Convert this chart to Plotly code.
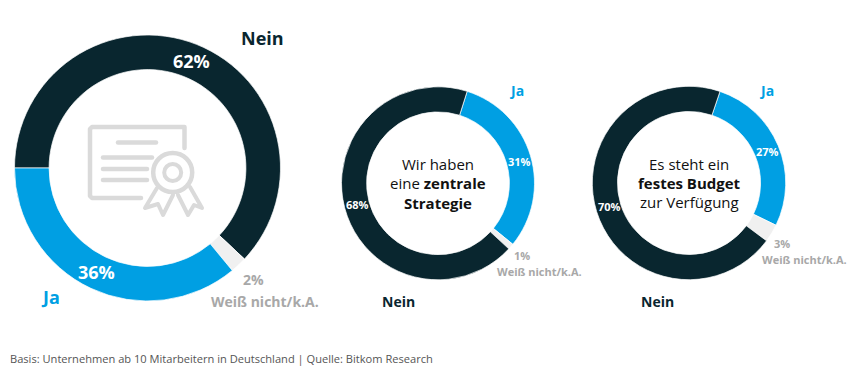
import plotly.graph_objects as go

W, H = 855, 371
NAVY, BLUE, PALE, GREY = "#09262f", "#009fe3", "#f0f0f0", "#a8a8a8"
FONT = "Open Sans"

# Data
answers_a = ["Nein", "Weiß nicht/k.A.", "Ja"]
values_a = [62, 2, 36]
answers_b = ["Ja", "Weiß nicht/k.A.", "Nein"]
values_b = [31, 1, 68]
answers_c = ["Ja", "Weiß nicht/k.A.", "Nein"]
values_c = [27, 3, 70]
colors = {"Nein": NAVY, "Ja": BLUE, "Weiß nicht/k.A.": PALE}
source = "Basis: Unternehmen ab 10 Mitarbeitern in Deutschland | Quelle: Bitkom Research"


def px(x):
    return x / W


def py(y):
    return 1 - y / H


fig = go.Figure()
for labels, values, cx, cy, r, rot in [
    (answers_a, values_a, 147.5, 168, 133, 270),
    (answers_b, values_b, 438, 183.3, 96.5, 17.6),
    (answers_c, values_c, 689, 183, 96.7, 18.7),
]:
    fig.add_trace(go.Pie(
        labels=labels, values=values, sort=False, direction="clockwise",
        rotation=rot, hole=0.74, textinfo="none", hoverinfo="label+percent",
        marker=dict(colors=[colors[l] for l in labels], line=dict(color="white", width=0.7)),
        domain=dict(x=[px(cx - r), px(cx + r)], y=[py(cy + r), py(cy - r)]),
        showlegend=False,
    ))

annotations = []


def note(text, x, y, size, color, bold=True):
    t = f"<b>{text}</b>" if bold else text
    annotations.append(dict(
        text=t, x=px(x), y=py(y), xref="paper", yref="paper",
        xanchor="center", yanchor="middle", showarrow=False,
        font=dict(family=FONT, size=size, color=color),
    ))


# Big donut
note("Nein", 262.5, 38, 18, NAVY)
note("Ja", 50.5, 297, 18, BLUE)
note(f"{values_a[0]}%", 191, 61.5, 18, "white")
note(f"{values_a[2]}%", 96, 272, 18, "white")
note(f"{values_a[1]}%", 253, 279, 14, GREY)
note("Weiß nicht/k.A.", 265, 301, 14, GREY)

# Middle donut
note("Ja", 516, 91, 14, BLUE)
note("Nein", 398, 301.5, 14, NAVY)
note(f"{values_b[0]}%", 519, 161, 11, "white")
note(f"{values_b[2]}%", 357, 204, 11, "white")
note(f"{values_b[1]}%", 522, 255.5, 11, GREY)
note("Weiß nicht/k.A.", 539, 271, 11, GREY)
note("Wir haben", 438, 163.5, 15, "#111111", False)
note("eine <b>zentrale</b>", 438, 183, 15, "#111111", False)
note("Strategie", 438, 202.5, 15, "#111111")

# Right donut
note("Ja", 766, 91, 14, BLUE)
note("Nein", 657, 301.5, 14, NAVY)
note(f"{values_c[0]}%", 767, 151, 11, "white")
note(f"{values_c[2]}%", 609, 207, 11, "white")
note(f"{values_c[1]}%", 782, 243.5, 11, GREY)
note("Weiß nicht/k.A.", 804, 259, 11, GREY)
note("Es steht ein", 689, 163.5, 15, "#111111", False)
note("festes Budget", 689, 183, 15, "#111111")
note("zur Verfügung", 689, 202, 15, "#111111", False)

note(source, 222, 358, 11.1, "#555555", False)

# Certificate icon (decoration), coordinates in pixels
ICON = "#dadada"
shapes = []


def pth(points, closed=False, width=4.5):
    d = "M " + " L ".join(f"{px(x)} {py(y)}" for x, y in points) + (" Z" if closed else "")
    shapes.append(dict(type="path", path=d, xref="paper", yref="paper",
                       line=dict(color=ICON, width=width), fillcolor="rgba(0,0,0,0)"))


def circ(x, y, r, width):
    shapes.append(dict(type="circle", xref="paper", yref="paper",
                       x0=px(x - r), x1=px(x + r), y0=py(y + r), y1=py(y - r),
                       line=dict(color=ICON, width=width)))


pth([(184.5, 148), (184.5, 127), (182, 127), (92, 127), (90, 129), (90, 196), (92, 198), (141, 198)])
pth([(118, 142.5), (156, 142.5)])
pth([(103, 157.5), (152, 157.5)])
pth([(103, 169), (147, 169)])
pth([(103, 180), (147, 180)])
circ(172.7, 172.5, 19.5, 4.5)
circ(172.7, 172.5, 8.5, 4)
pth([(157, 188), (145, 208), (158, 204), (163, 215), (173, 195)], width=4)
pth([(178, 195), (188, 215), (194, 205), (202, 208), (190, 187)], width=4)

fig.update_layout(
    width=W, height=H, margin=dict(l=0, r=0, t=0, b=0),
    paper_bgcolor="white", plot_bgcolor="white",
    annotations=annotations, shapes=shapes,
    font=dict(family=FONT),
)
fig.write_html(
    "out.html",
    config={"displayModeBar": False},
    post_script="document.body.style.margin='0';document.querySelectorAll('.shapelayer path').forEach(p=>{p.style.strokeLinecap='round';p.style.strokeLinejoin='round';});",
)
